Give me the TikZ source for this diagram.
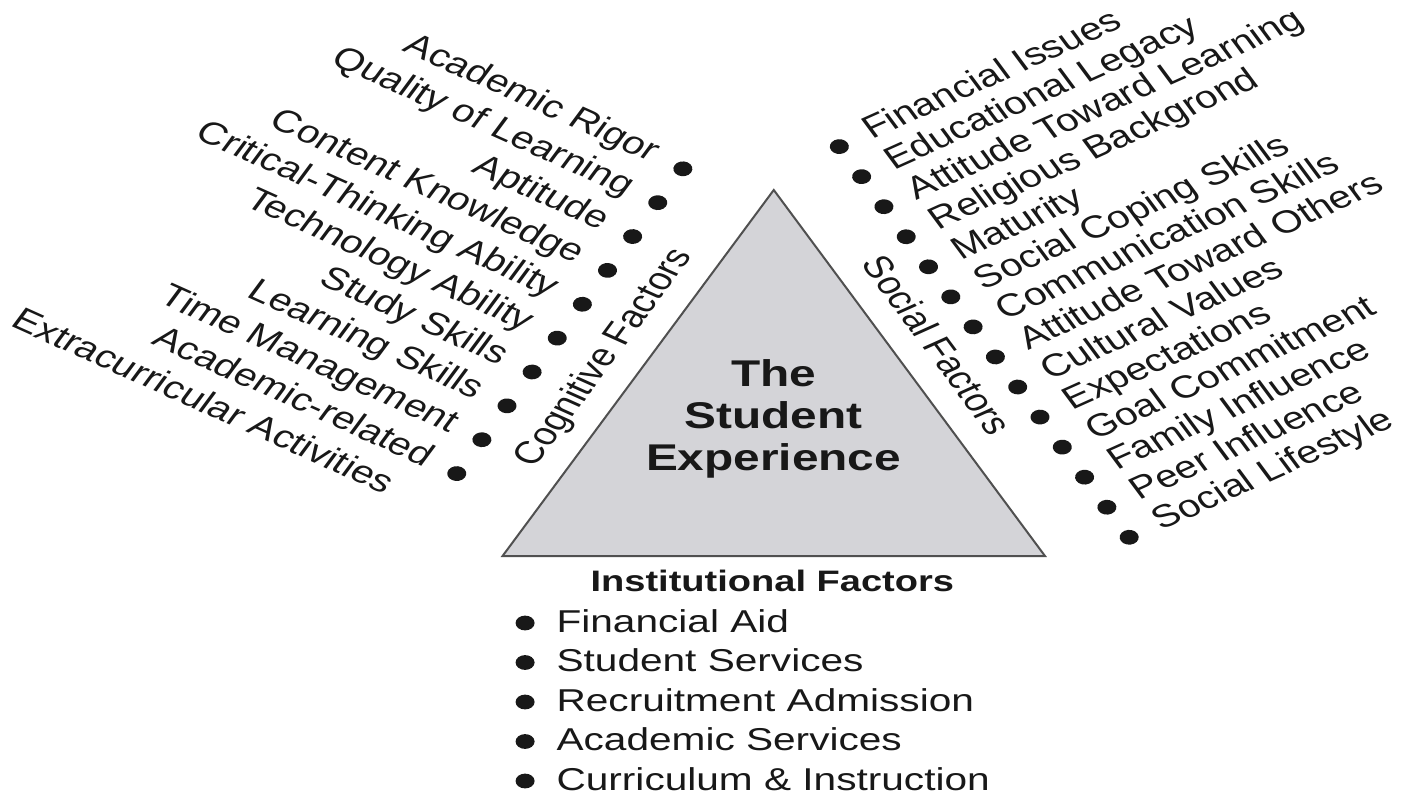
\documentclass[tikz,border=0pt]{standalone}
\usepackage{fontspec}
\setmainfont{Liberation Sans}
\usepackage{tikz}

\definecolor{trifill}{RGB}{212,212,216}
\definecolor{triedge}{RGB}{80,80,80}
\definecolor{ink}{RGB}{24,24,24}

\begin{document}
\begin{tikzpicture}[x=0.5pt, y=0.5pt, xscale=1.285, transform shape,
        dot/.style={circle, fill=ink, inner sep=0pt, minimum size=7.4pt},
        factor/.style={font=\fontsize{15.8}{18}\selectfont, text=ink, inner sep=0pt}]
        \useasboundingbox (0,0) rectangle (1091.8,795);

        % the triangle
        \coordinate (top) at (602,605);
        \coordinate (bl) at (391,239);
        \coordinate (br) at (813,239);
        \draw[triedge, line width=1pt, fill=trifill] (bl) -- (top) -- (br) -- cycle;
        \node[font={\fontsize{18.6}{21}\selectfont\bfseries}, text=ink, align=center, inner sep=0pt] (title) at (602,376) {The\\Student\\Experience};

        % left edge: cognitive factors
        \begin{scope}[shift={(391,239)}, rotate=60]
            \node[factor, anchor=base] (cogtitle) at (211,22) {Cognitive Factors};
            \foreach \txt [count=\i from 0] in {Academic Rigor, Quality of Learning, Aptitude, Content Knowledge, Critical-Thinking Ability, Technology Ability, Study Skills, Learning Skills, Time Management, Academic-related} {
                \pgfmathsetmacro\t{405.5-39.1*\i}
                \node[dot] (cog\i) at (\t,72) {};
                \node[factor, rotate=-90, anchor=base east] (cogtxt\i) at (\t-7,97) {\txt};
            }
            \node[factor, rotate=-90, anchor=base east] (cogextra) at (7.5,110) {Extracurricular Activities};
        \end{scope}

        % right edge: social factors
        \begin{scope}[shift={(602,605)}, rotate=-60]
            \node[factor, anchor=base] (soctitle) at (198,22) {Social Factors};
            \foreach \txt [count=\i from 0] in {Financial Issues, Educational Legacy, Attitude Toward Learning, Religious Backgrond, Maturity, Social Coping Skills, Communication Skills, Attitude Toward Others, Cultural Values, Expectations, Goal Commitment, Family Influence, Peer Influence, Social Lifestyle} {
                \pgfmathsetmacro\t{-12+34.7*\i}
                \node[dot] (soc\i) at (\t,66) {};
                \node[factor, rotate=90, anchor=base west] (soctxt\i) at (\t+7,91) {\txt};
            }
        \end{scope}

        % base: institutional factors
        \node[font={\fontsize{14.8}{18}\selectfont\bfseries}, text=ink, anchor=base, inner sep=0pt] (insttitle) at (601,204) {Institutional Factors};
        \foreach \txt [count=\i from 0] in {Financial Aid, Student Services, Recruitment Admission, Academic Services, Curriculum \& Instruction} {
            \node[dot] (inst\i) at (408.6,{172-39.5*\i}) {};
            \node[factor, anchor=base west] (insttxt\i) at (432.7,{163-39.5*\i}) {\txt};
        }
\end{tikzpicture}
\end{document}
